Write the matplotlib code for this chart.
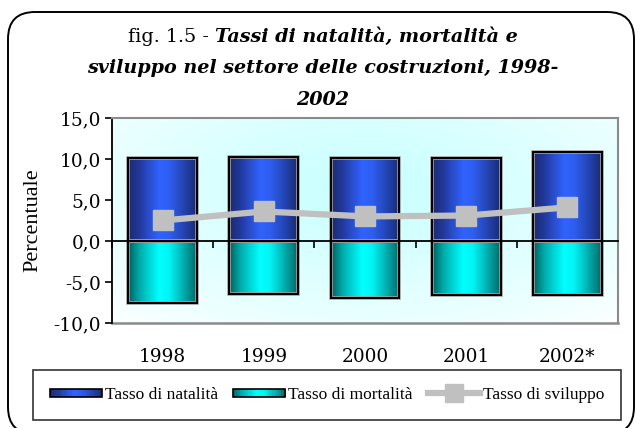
import numpy as np
import matplotlib
matplotlib.use("Agg")
import matplotlib.pyplot as plt
from matplotlib.patches import Rectangle, FancyBboxPatch
from matplotlib.colors import LinearSegmentedColormap
from matplotlib.legend_handler import HandlerBase
from matplotlib.lines import Line2D

categories = ["1998", "1999", "2000", "2001", "2002*"]
natalita = [10.1, 10.3, 10.1, 10.1, 10.9]
mortalita = [-7.6, -6.5, -6.9, -6.6, -6.6]
sviluppo = [2.5, 3.6, 3.0, 3.1, 4.1]
yticks = [-10, -5, 0, 5, 10, 15]
labels = ["Tasso di natalità", "Tasso di mortalità", "Tasso di sviluppo"]

W, H = 642, 428
fig = plt.figure(figsize=(W / 100, H / 100), dpi=100)
fig.patch.set_facecolor("white")

# rounded outer border (in inches)
border = FancyBboxPatch((0.08, -0.06), 6.26, 4.22,
                        boxstyle="round,pad=0,rounding_size=0.27",
                        transform=fig.dpi_scale_trans, fill=False,
                        edgecolor="black", linewidth=1.4)
fig.patches.append(border)

ax = fig.add_axes([112 / W, 1 - 323 / H, (618 - 112) / W, (323 - 118) / H])
ax.set_xlim(-0.5, len(categories) - 0.5)
ax.set_ylim(-10, 15)

# background radial gradient
yy, xx = np.mgrid[0:1:200j, 0:1:300j]
d = np.sqrt(((xx - 0.5) / 0.75) ** 2 + ((yy - 0.65) / 0.9) ** 2)
t = np.clip(1 - d, 0, 1) ** 0.8
bg = np.ones((200, 300, 3))
bg[..., 0] = 1 - 0.22 * t
ax.imshow(bg, extent=[0, 1, 0, 1], transform=ax.transAxes, aspect="auto",
          zorder=0, origin="lower")

blue_cmap = LinearSegmentedColormap.from_list(
    "b", [(0, "#1a2a70"), (0.15, "#22389a"), (0.45, "#3062ff"),
          (0.6, "#2e5ef0"), (0.85, "#2240a8"), (1, "#1a2a70")])
cyan_cmap = LinearSegmentedColormap.from_list(
    "c", [(0, "#005f5f"), (0.15, "#00a8a8"), (0.45, "#00ffff"),
          (0.6, "#00f4f4"), (0.85, "#00a0a0"), (1, "#006868")])

x = np.arange(len(categories))
grad = np.linspace(0, 1, 64).reshape(1, -1)
for vals, cmap in ((natalita, blue_cmap), (mortalita, cyan_cmap)):
    bars = ax.bar(x, vals, width=0.68, facecolor="none", edgecolor="black",
                  linewidth=1.5, zorder=3)
    for b in bars:
        x0, y0 = b.get_x(), b.get_y()
        w, h = b.get_width(), b.get_height()
        im = ax.imshow(grad, cmap=cmap, aspect="auto",
                       extent=[x0, x0 + w, min(y0, y0 + h), max(y0, y0 + h)],
                       zorder=2)
        im.set_clip_path(b)
        halo = Rectangle((x0, y0), w, h, fill=False, edgecolor="#a8a8a8",
                         linewidth=2.6, zorder=2.5)
        ax.add_patch(halo)

ax.set_xlim(-0.5, len(categories) - 0.5)
ax.set_ylim(-10, 15)

ax.plot(x, sviluppo, color="#c0c0c0", linewidth=4.5, marker="s",
        markersize=14, markerfacecolor="#c0c0c0", markeredgecolor="#c0c0c0",
        zorder=5, solid_capstyle="butt")

# frame
for s in ("top", "right"):
    ax.spines[s].set_color("#8a8a8a")
    ax.spines[s].set_linewidth(1.5)
ax.spines["left"].set_color("black")
ax.spines["left"].set_linewidth(1.3)
ax.spines["bottom"].set_position(("data", 0))
ax.spines["bottom"].set_color("black")
ax.spines["bottom"].set_linewidth(1.3)
ax.spines["bottom"].set_zorder(6)
ax.plot([0, 1], [0, 0], transform=ax.transAxes, color="#8a8a8a",
        linewidth=1.8, clip_on=False, zorder=1)

ax.set_xticks(np.arange(-0.5, len(categories), 1.0))
ax.set_xticklabels([])
ax.tick_params(axis="x", direction="out", length=5, width=1.2, color="black")

ax.set_yticks(yticks)
ax.set_yticklabels([f"{v:.1f}".replace(".", ",") for v in yticks],
                   fontfamily="DejaVu Serif", fontsize=13.3)
ax.tick_params(axis="y", direction="out", length=5, width=1.2, pad=3)

sec = ax.secondary_xaxis("bottom")
sec.set_xticks(x)
sec.set_xticklabels(categories, fontfamily="DejaVu Serif", fontsize=13.3)
sec.tick_params(length=0, pad=18)
sec.spines["bottom"].set_visible(False)

ax.set_ylabel("Percentuale", fontfamily="Liberation Serif", fontsize=16,
              labelpad=8)

# title (mixed styles)
renderer = fig.canvas.get_renderer()
tfont = "DejaVu Serif"
tsize = 13.8


def centered_line(parts, y):
    texts = []
    for s, style, weight in parts:
        tx = fig.text(0, y, s, fontfamily=tfont, fontsize=tsize, style=style,
                      weight=weight, ha="left", va="center")
        texts.append(tx)
    widths = [tx.get_window_extent(renderer).width for tx in texts]
    total = sum(widths)
    cx = 323
    xpos = cx - total / 2
    for tx, w in zip(texts, widths):
        tx.set_x(xpos / W)
        xpos += w


centered_line([("fig. 1.5 - ", "normal", "normal"),
               ("Tassi di natalità, mortalità e", "italic", "bold")],
              1 - 37 / H)
centered_line([("sviluppo nel settore delle costruzioni, 1998-", "italic", "bold")],
              1 - 68 / H)
centered_line([("2002", "italic", "bold")], 1 - 100 / H)


class GradHandler(HandlerBase):
    def __init__(self, cmap):
        super().__init__()
        self.cmap = cmap

    def create_artists(self, legend, orig_handle, xdescent, ydescent, width,
                       height, fontsize, trans):
        n = 24
        arts = []
        h = height * 0.7
        y0 = -ydescent + (height - h) / 2
        for i in range(n):
            r = Rectangle((-xdescent + width * i / n, y0), width / n + 0.3, h,
                          facecolor=self.cmap((i + 0.5) / n), edgecolor="none",
                          transform=trans)
            arts.append(r)
        arts.append(Rectangle((-xdescent, y0), width, h, fill=False,
                              edgecolor="black", linewidth=1.2,
                              transform=trans))
        return arts


hb = Rectangle((0, 0), 1, 1)
hc = Rectangle((0, 0), 1, 1)
hl = Line2D([], [], color="#c0c0c0", linewidth=4.5, marker="s",
            markersize=13, markeredgecolor="#c0c0c0")
leg = fig.legend([hb, hc, hl], labels, loc="center",
                 bbox_to_anchor=(38 / W, 1 - 421 / H, (616 - 38) / W, 52 / H),
                 ncol=3, frameon=True, fancybox=False, edgecolor="black",
                 handlelength=3.0, handletextpad=0.15, columnspacing=0.9,
                 borderpad=0.95, borderaxespad=0,
                 prop={"family": "Liberation Serif", "size": 12.5},
                 handler_map={hb: GradHandler(blue_cmap),
                              hc: GradHandler(cyan_cmap)})
leg.get_frame().set_linewidth(1.2)

fig.savefig("out.png", dpi=100)
